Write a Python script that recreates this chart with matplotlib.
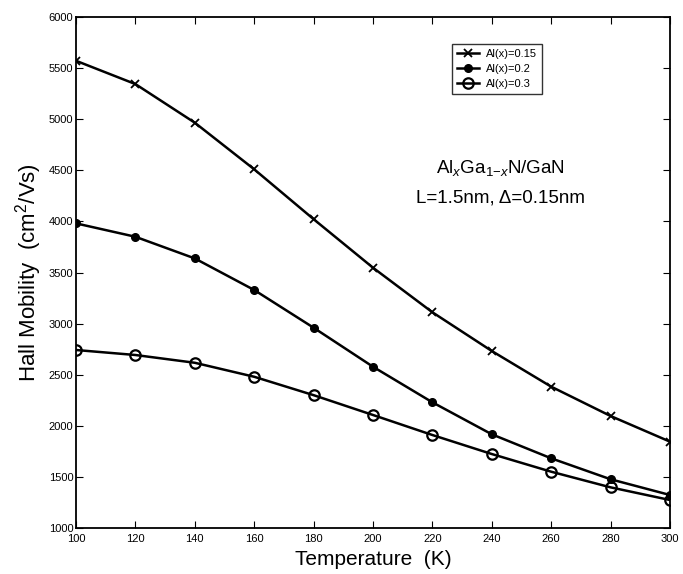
import numpy as np
import matplotlib as mpl
mpl.use('Agg')
import matplotlib.pyplot as plt

plt.rcParams["font.family"] = ["Liberation Sans", "DejaVu Sans"]
plt.rcParams["mathtext.fontset"] = "custom"
plt.rcParams["mathtext.rm"] = "Liberation Sans"
plt.rcParams["mathtext.it"] = "Liberation Sans:italic"

# Data
temperature = [100, 120, 140, 160, 180, 200, 220, 240, 260, 280, 300]
mob_015 = [5572, 5344, 4966, 4510, 4022, 3547, 3111, 2732, 2383, 2096, 1845]
mob_02 = [3981, 3850, 3638, 3329, 2960, 2578, 2230, 1917, 1682, 1477, 1323]
mob_03 = [2742, 2693, 2617, 2480, 2300, 2106, 1910, 1724, 1551, 1398, 1274]
labels = ["Al(x)=0.15", "Al(x)=0.2", "Al(x)=0.3"]

fig = plt.figure(figsize=(6.83, 5.74), dpi=100)
ax = fig.add_axes([0.1113, 0.0801, 0.8697, 0.8902])

ax.plot(temperature, mob_015, color='k', lw=1.8, marker='x', ms=5.5, mew=1.3, label=labels[0])
ax.plot(temperature, mob_02, color='k', lw=1.8, marker='o', ms=5.5, label=labels[1])
ax.plot(temperature, mob_03, color='k', lw=1.8, marker='o', ms=7.5, mfc='none', mew=1.6, label=labels[2])

ax.set_xlim(100, 300)
ax.set_ylim(1000, 6000)
ax.set_xticks(np.arange(100, 301, 20))
ax.set_yticks(np.arange(1000, 6001, 500))
ax.tick_params(direction='in', top=True, right=True, labelsize=8, length=5)
ax.tick_params(axis='y', pad=2)
ax.tick_params(axis='x', pad=4)
for s in ax.spines.values():
    s.set_linewidth(1.3)

ax.set_xlabel('Temperature  (K)', fontsize=15)
ax.xaxis.set_label_coords(0.5, -0.043)
ax.set_ylabel('Hall Mobility  (cm$^2$/Vs)', fontsize=16, labelpad=3)

leg = ax.legend(loc='upper left', bbox_to_anchor=(0.633, 0.947), fontsize=8,
                frameon=True, fancybox=False, edgecolor='k', handlelength=2.0,
                borderpad=0.45, labelspacing=0.45, handletextpad=0.6,
                borderaxespad=0)
leg.get_frame().set_linewidth(1.0)

ax.text(0.714, 0.705, r'Al$_x$Ga$_{1\mathregular{-}x}$N/GaN', transform=ax.transAxes,
        ha='center', va='center', fontsize=13.5)
ax.text(0.714, 0.646, 'L=1.5nm, \u0394=0.15nm', transform=ax.transAxes,
        ha='center', va='center', fontsize=13.5)

plt.savefig('out.png', dpi=100)
